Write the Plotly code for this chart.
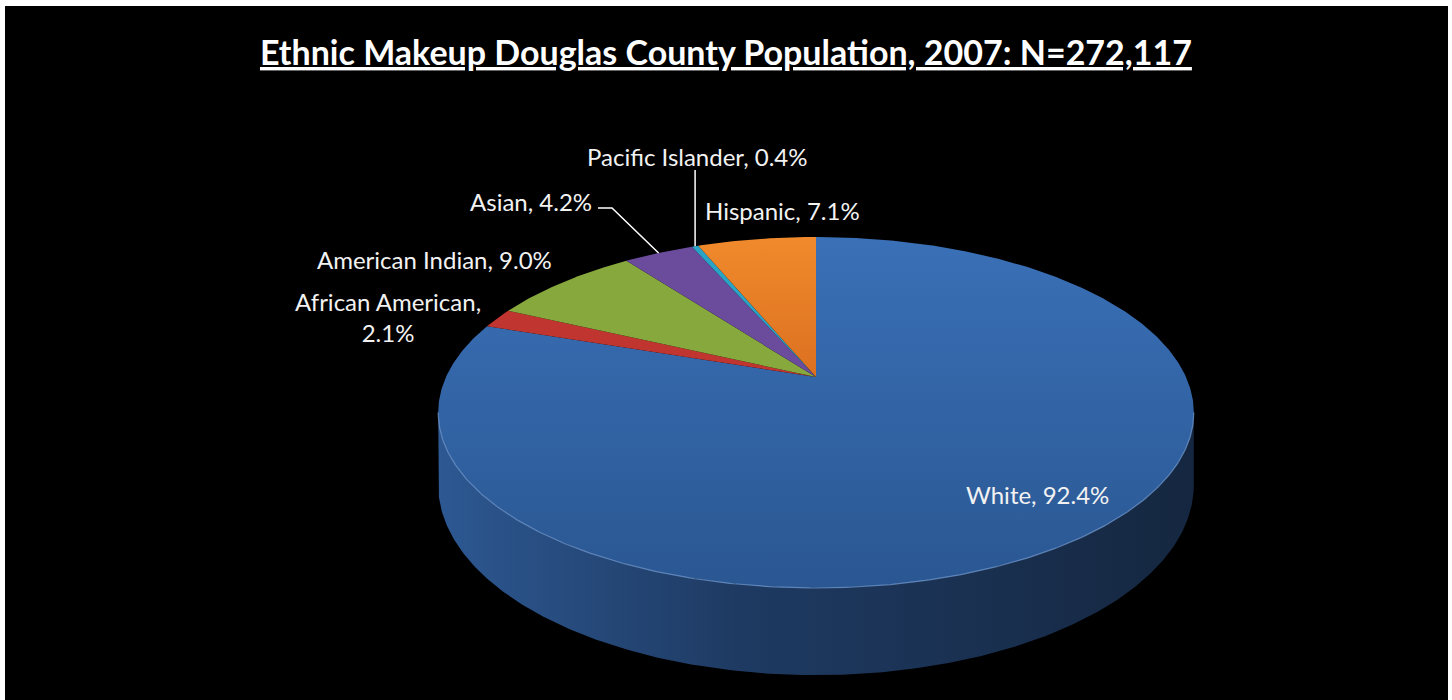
import math
import plotly.graph_objects as go

# ---------------- data ----------------
categories = ["White", "African American", "American Indian", "Asian", "Pacific Islander", "Hispanic"]
percents = [92.4, 2.1, 9.0, 4.2, 0.4, 7.1]
top_colors = ["#3566a9", "#c0352f", "#86a83c", "#6b4b9c", "#2ba3c6", "#ec7e26"]
title_text = "Ethnic Makeup Douglas County Population, 2007: N=272,117"

# ---------------- 3-D pie projection settings ----------------
CX, CY = 816.0, 377.0      # apex position
F, G, K = 370.0, 168.3, 0.2023
H = 69.5                   # thickness
STEP = 0.5

def proj(t_deg, r=1.0, h=0.0):
    t = math.radians(t_deg)
    X = r * math.sin(t)
    Z = r * math.cos(t)
    w = 1 + K * Z
    return CX + F * X / w, CY - G * Z / w + H * h / w

def arc(t0, t1, h=0.0):
    n = max(2, int(abs(t1 - t0) / STEP) + 1)
    return [proj(t0 + (t1 - t0) * i / (n - 1), 1.0, h) for i in range(n)]

total = sum(percents)
bounds = []
acc = 0.0
for v in percents:
    t0 = acc / total * 360.0
    acc += v
    bounds.append((t0, acc / total * 360.0))

fig = go.Figure()

# ---- side wall (visible front part) ----
t_left = math.degrees(math.acos(-K))
t_right = 360.0 - t_left
for (t0, t1), name in zip(bounds, categories):
    a, b = max(t0, t_left), min(t1, t_right)
    if b <= a:
        continue
    pts = arc(a, b, 0.0) + arc(b, a, 1.0)
    fig.add_trace(go.Scatter(
        x=[p[0] for p in pts] + [pts[0][0]], y=[p[1] for p in pts] + [pts[0][1]],
        mode="lines", fill="toself", line=dict(width=0),
        fillgradient=dict(type="horizontal",
                          colorscale=[[0, "#2d5892"], [0.4, "#1e3a62"], [1, "#152740"]]),
        hoverinfo="skip", showlegend=False))

# ---- top faces ----
for (t0, t1), name, col in zip(bounds, categories, top_colors):
    apex = proj(0, 0.0, 0.0)
    pts = [apex] + arc(t0, t1, 0.0) + [apex]
    kw = {}
    if name == "White":
        kw["fillgradient"] = dict(type="vertical",
                                  colorscale=[[0, "#2a5792"], [1, "#3a70b7"]])
    elif name == "Hispanic":
        kw["fillgradient"] = dict(type="vertical",
                                  colorscale=[[0, "#dc7020"], [1, "#f08a2c"]])
    fig.add_trace(go.Scatter(
        x=[p[0] for p in pts], y=[p[1] for p in pts],
        mode="lines", fill="toself", fillcolor=col, line=dict(width=0, color=col),
        hoverinfo="skip", showlegend=False, **kw))

# rim highlight
rim = arc(t_left, t_right, 0.0)
fig.add_trace(go.Scatter(x=[p[0] for p in rim], y=[p[1] for p in rim], mode="lines",
                         line=dict(color="rgba(120,160,215,0.7)", width=1.2),
                         hoverinfo="skip", showlegend=False))

# ---------------- labels ----------------
label_pos = {
    "Pacific Islander": (697, 156, "center"),
    "Asian": (594, 201, "right"),
    "Hispanic": (703, 210, "left"),
    "American Indian": (434, 259, "center"),
    "African American": (388, 317, "center"),
    "White": (1037, 494, "center"),
}
font_lab = dict(family="Lato, 'Open Sans', sans-serif", size=24, color="#f2f2f2")
for i, name in enumerate(categories):
    x, y, anc = label_pos[name]
    if name == "African American":
        text = f"{name},<br>{percents[i]}%"
    else:
        text = f"{name}, {percents[i]}%"
    fig.add_annotation(x=x, y=y, xref="x", yref="y", text=text, showarrow=False,
                       xanchor=anc, yanchor="middle", font=font_lab, align="center")

# leader lines
ia = categories.index("Asian")
ex, ey = proj((bounds[ia][0] + bounds[ia][1]) / 2)
fig.add_shape(type="path", xref="x", yref="y",
              path=f"M 598 208 L 612 208 L {ex:.1f} {ey:.1f}",
              line=dict(color="white", width=1.5))
ip = categories.index("Pacific Islander")
px_, py_ = proj((bounds[ip][0] + bounds[ip][1]) / 2)
fig.add_shape(type="line", xref="x", yref="y", x0=px_, x1=px_, y0=170, y1=py_,
              line=dict(color="white", width=1.5))

# title
fig.add_annotation(x=726, y=51, xref="x", yref="y",
                   text=f"<b><u>{title_text}</u></b>", showarrow=False,
                   xanchor="center", yanchor="middle",
                   font=dict(family="Lato, 'Open Sans', sans-serif", size=34, color="white"))

fig.update_layout(
    width=1452, height=700,
    margin=dict(l=5, r=4, t=6, b=0),
    paper_bgcolor="white", plot_bgcolor="black",
    xaxis=dict(range=[5, 1448], visible=False, fixedrange=True),
    yaxis=dict(range=[700, 6], visible=False, fixedrange=True),
    showlegend=False,
)

fig.write_html("out.html", config={"displayModeBar": False},
               post_script="document.body.style.margin='0';")
